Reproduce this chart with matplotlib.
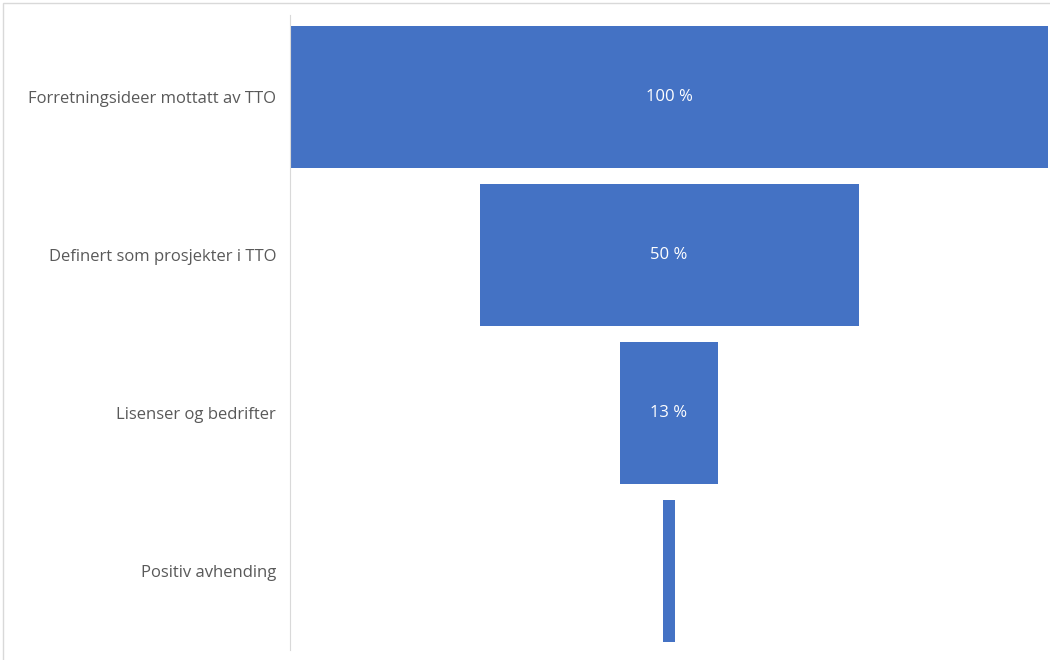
import matplotlib.pyplot as plt
from matplotlib.patches import Rectangle

stages = ['Forretningsideer mottatt av TTO', 'Definert som prosjekter i TTO',
          'Lisenser og bedrifter', 'Positiv avhending']
shares = [100, 50, 13, 1.5]
labels = ['100 %', '50 %', '13 %', '']

plt.rcParams['font.family'] = ['Open Sans', 'DejaVu Sans']

fig = plt.figure(figsize=(10.5, 6.6), dpi=100)
ax = fig.add_axes([290 / 1050, 10 / 660, 758 / 1050, 635 / 660])

# funnel: bars centred on zero
pos = list(range(len(stages)))
lefts = [-s / 2 for s in shares]
bars = ax.barh(pos, shares, left=lefts, height=0.9, color='#4472C4')

for rect, lab in zip(bars, labels):
    ax.text(0, rect.get_y() + rect.get_height() / 2, lab, ha='center', va='center',
            color='white', fontsize=12)

ax.set_xlim(-50, 50)
ax.set_ylim(3.5, -0.52)
ax.set_yticks(pos)
ax.set_yticklabels(stages, fontsize=12, color='#595959')
ax.tick_params(axis='y', length=0, pad=10)
ax.set_xticks([])
for side in ['top', 'right', 'bottom']:
    ax.spines[side].set_visible(False)
ax.spines['left'].set_color('#D9D9D9')

# light frame around the chart area
fig.patches.append(Rectangle((3 / 1050, -0.01), 1.1, 1 - 3 / 660 + 0.01,
                             transform=fig.transFigure, fill=False,
                             edgecolor='#D9D9D9', linewidth=1))

fig.savefig('out.png', dpi=100)
